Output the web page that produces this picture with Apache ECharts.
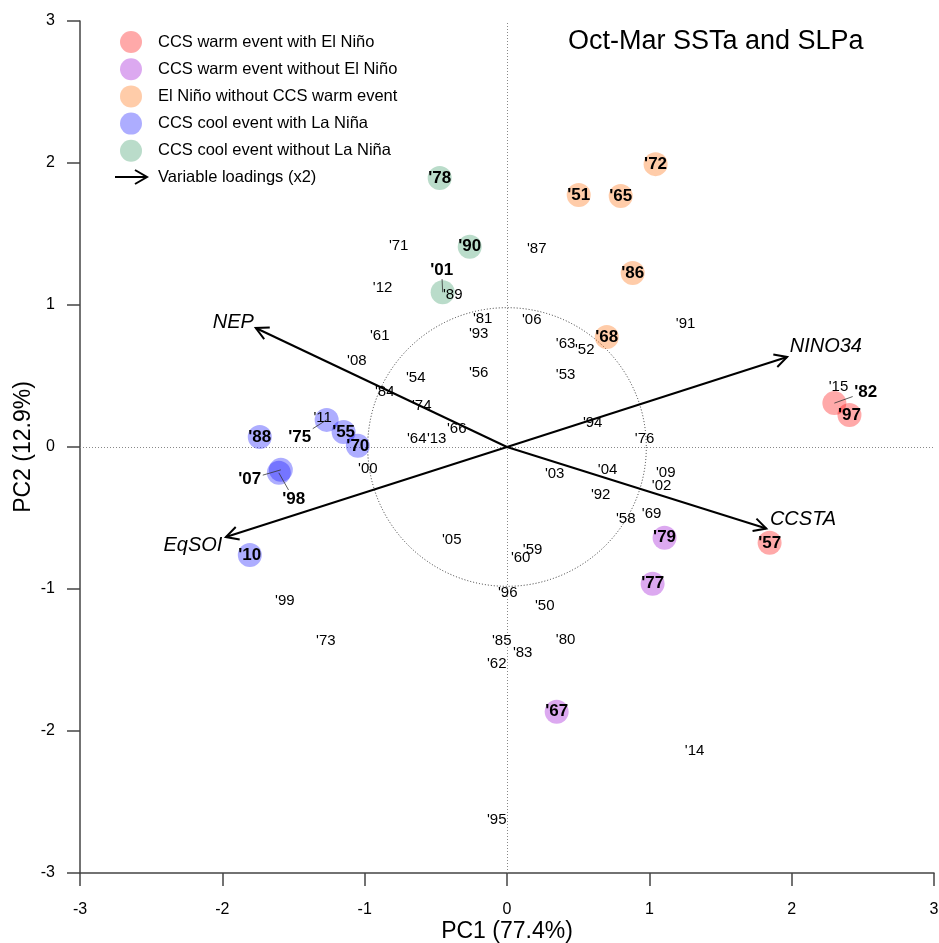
<!DOCTYPE html>
<html><head><meta charset="utf-8">
<script src="https://cdn.jsdelivr.net/npm/echarts@6/dist/echarts.min.js"></script>
<style>html,body{margin:0;padding:0;background:#fff}#c{width:939px;height:943px}</style>
</head><body><div id="c"></div>
<script>
// ---- data (PC1, PC2) ----
const warmWithElNino    = [["'57",1.845,-0.675],["'82",2.300,0.309],["'97",2.406,0.225]];
const warmWithoutElNino = [["'79",1.107,-0.639],["'77",1.023,-0.963],["'67",0.349,-1.864]];
const elNinoWithoutWarm = [["'72",1.044,1.992],["'51",0.504,1.774],["'65",0.799,1.767],["'86",0.883,1.225],["'68",0.701,0.775]];
const coolWithLaNina    = [["'88",-1.737,0.071],["'75",-1.267,0.191],["'55",-1.148,0.106],["'70",-1.048,0.008],["'07",-1.589,-0.161],["'98",-1.603,-0.182],["'10",-1.807,-0.760]];
const coolWithoutLaNina = [["'78",-0.473,1.894],["'90",-0.262,1.410],["'01",-0.452,1.090]];
// labels of event years drawn away from their point (label PC1, PC2)
const displacedLabels = [["'82",2.520,0.388],["'75",-1.456,0.071],["'07",-1.807,-0.225],["'98",-1.499,-0.366],["'01",-0.459,1.246]];
// ordinary years
const otherYears = [
 ["'71",-0.761,1.415],["'87",0.209,1.394],["'12",-0.874,1.119],["'89",-0.381,1.070],["'81",-0.171,0.901],
 ["'93",-0.199,0.796],["'06",0.174,0.894],["'61",-0.894,0.782],["'91",1.255,0.866],["'63",0.412,0.726],
 ["'52",0.546,0.683],["'08",-1.055,0.606],["'56",-0.199,0.521],["'53",0.412,0.507],["'54",-0.641,0.486],
 ["'84",-0.859,0.388],["'74",-0.599,0.289],["'94",0.602,0.169],["'66",-0.353,0.127],["'64",-0.634,0.057],
 ["'13",-0.494,0.057],["'76",0.967,0.057],["'00",-0.978,-0.154],["'03",0.335,-0.189],["'04",0.707,-0.161],
 ["'09",1.115,-0.182],["'02",1.086,-0.274],["'92",0.658,-0.338],["'69",1.016,-0.471],["'58",0.834,-0.507],
 ["'05",-0.388,-0.654],["'59",0.180,-0.724],["'60",0.096,-0.780],["'96",0.005,-1.027],["'50",0.265,-1.118],
 ["'99",-1.561,-1.083],["'73",-1.273,-1.365],["'85",-0.037,-1.365],["'80",0.412,-1.358],["'83",0.110,-1.449],
 ["'62",-0.072,-1.526],["'14",1.318,-2.139],["'95",-0.072,-2.624],["'15",2.329,0.423],["'11",-1.295,0.205]
];
// variable loadings (x2): name, tip PC1, tip PC2, label PC1, label PC2
const loadings = [["NEP",-1.765,0.838,-1.923,0.880],["NINO34",1.968,0.634,2.240,0.711],["CCSTA",1.822,-0.574,2.080,-0.511],["EqSOI",-1.975,-0.634,-2.207,-0.696]];
const circleRadius = 0.98;
const axisTicks = [-3,-2,-1,0,1,2,3];

const groups = [
 {name:'CCS warm event with El Niño', data:warmWithElNino, color:'rgba(255,0,0,0.42)'},
 {name:'CCS warm event without El Niño', data:warmWithoutElNino, color:'rgba(150,0,211,0.42)'},
 {name:'El Niño without CCS warm event', data:elNinoWithoutWarm, color:'rgba(255,105,0,0.42)'},
 {name:'CCS cool event with La Niña', data:coolWithLaNina, color:'rgba(0,0,255,0.40)'},
 {name:'CCS cool event without La Niña', data:coolWithoutLaNina, color:'rgba(40,145,90,0.40)'}
];
const displacedSet = new Set(displacedLabels.map(d=>d[0]));
const FONT = "'Liberation Sans', Arial, Helvetica, sans-serif";
const boldLabel = {show:true, position:'inside', formatter:p=>p.name, color:'#000', opacity:1, textBorderWidth:0, textBorderColor:'transparent', fontSize:17, fontWeight:'bold', fontFamily:FONT};
const plainLabel = {show:true, position:'inside', formatter:p=>p.name, color:'#000', opacity:1, textBorderWidth:0, textBorderColor:'transparent', fontSize:15, fontFamily:FONT};

const chart = echarts.init(document.getElementById('c'), null, {renderer:'canvas'});
const series = [];
// dotted circle
series.push({type:'custom', silent:true, z:1, data:[[0,0,circleRadius]],
 renderItem(params, api){
   const c = api.coord([api.value(0), api.value(1)]);
   const s = api.size([api.value(2), api.value(2)]);
   return {type:'circle', shape:{cx:c[0], cy:c[1], r:(s[0]+s[1])/2},
     style:{stroke:'#333', lineWidth:1, lineDash:[1,2], fill:null}};
 }});
groups.forEach(g=>{
 series.push({type:'scatter', name:g.name, symbol:'circle', symbolSize:24, z:2,
   itemStyle:{color:g.color},
   label:boldLabel,
   emphasis:{disabled:true},
   data:g.data.map(d=>({name:d[0], value:[d[1],d[2]], label:{show:!displacedSet.has(d[0])}}))
 });
});
// leader lines for displaced labels
const allEvents = [].concat(...groups.map(g=>g.data));
const leaderData = displacedLabels.map(d=>{const e = allEvents.find(a=>a[0]===d[0]); return [e[1],e[2],d[1],d[2]];});
series.push({type:'custom', silent:true, z:3, data:leaderData,
 renderItem(params, api){
   const c = api.coord([api.value(0), api.value(1)]);
   const l = api.coord([api.value(2), api.value(3)]);
   const dx = c[0]-l[0], dy = c[1]-l[1];
   const t = Math.min(dx!==0?13/Math.abs(dx):1e9, dy!==0?9/Math.abs(dy):1e9);
   const s = [l[0]+t*dx, l[1]+t*dy];
   return {type:'line', shape:{x1:s[0],y1:s[1],x2:c[0],y2:c[1]}, style:{stroke:'#333', lineWidth:0.8}};
 }});
series.push({type:'scatter', symbolSize:1, z:4, silent:true, itemStyle:{color:'transparent'},
 label:boldLabel, emphasis:{disabled:true},
 data:displacedLabels.map(d=>({name:d[0], value:[d[1],d[2]]}))});
// ordinary year labels + zero lines
series.push({type:'scatter', symbolSize:1, z:4, silent:true, itemStyle:{color:'transparent'},
 label:plainLabel, emphasis:{disabled:true},
 data:otherYears.map(d=>({name:d[0], value:[d[1],d[2]]})),
 markLine:{silent:true, symbol:'none', label:{show:false}, z:1,
   lineStyle:{color:'#888', width:1, type:[1,2]},
   data:[{xAxis:0},{yAxis:0}]}
});
// loadings arrows
series.push({type:'custom', silent:true, z:5, data:loadings.map(d=>({name:d[0], value:[d[1],d[2],d[3],d[4]]})),
 renderItem(params, api){
   const o = api.coord([0,0]);
   const t = api.coord([api.value(0), api.value(1)]);
   const l = api.coord([api.value(2), api.value(3)]);
   const ang = Math.atan2(t[1]-o[1], t[0]-o[0]);
   const h = 14, a = Math.PI/6.5;
   const p1 = [t[0]-h*Math.cos(ang-a), t[1]-h*Math.sin(ang-a)];
   const p2 = [t[0]-h*Math.cos(ang+a), t[1]-h*Math.sin(ang+a)];
   return {type:'group', children:[
     {type:'line', shape:{x1:o[0],y1:o[1],x2:t[0],y2:t[1]}, style:{stroke:'#000', lineWidth:2}},
     {type:'polyline', shape:{points:[p1,t,p2]}, style:{stroke:'#000', lineWidth:2, fill:null}},
     {type:'text', x:l[0], y:l[1], style:{text:loadings[params.dataIndex][0], fontSize:20, fontStyle:'italic', fontFamily:FONT, fill:'#000', align:'center', verticalAlign:'middle'}}
   ]};
 }});

const axisCommon = {type:'value', min:-3, max:3, interval:1,
 axisLine:{show:true, onZero:false, lineStyle:{color:'#444', width:1.5}},
 axisTick:{show:true, length:13, lineStyle:{color:'#444', width:1.5}},
 axisLabel:{fontSize:16, color:'#000', fontFamily:FONT, formatter:v=>axisTicks.includes(v)?String(v):''},
 splitLine:{show:false},
 nameMoveOverlap:false,
 nameLocation:'middle', nameTextStyle:{fontSize:23, color:'#000', fontFamily:FONT}};

chart.setOption({
 animation:false,
 backgroundColor:'#fff',
 textStyle:{fontFamily:FONT},
 grid:{left:80, right:5, top:21, bottom:70, containLabel:false, outerBoundsMode:'none'},
 title:{text:'Oct-Mar SSTa and SLPa', left:568, top:28, padding:0, textStyle:{fontSize:27, fontWeight:'normal', color:'#000', fontFamily:FONT, lineHeight:28}},
 legend:{orient:'vertical', left:120, top:31, padding:0, itemWidth:22, itemHeight:22, itemGap:5.2,
   selectedMode:false, icon:'circle',
   textStyle:{fontSize:16.5, color:'#000', fontFamily:FONT, padding:[0,0,0,11]},
   data:groups.map(g=>g.name)},
 xAxis:Object.assign({}, axisCommon, {name:'PC1 (77.4%)', nameGap:47, axisLabel:Object.assign({}, axisCommon.axisLabel, {margin:29})}),
 yAxis:Object.assign({}, axisCommon, {name:'PC2 (12.9%)', nameGap:45, axisLabel:Object.assign({}, axisCommon.axisLabel, {margin:25})}),
 graphic:[
   {type:'line', shape:{x1:115,y1:177,x2:147,y2:177}, style:{stroke:'#000', lineWidth:2}},
   {type:'polyline', shape:{points:[[135,170],[147,177],[135,184]]}, style:{stroke:'#000', lineWidth:2, fill:null}},
   {type:'text', x:158, y:177, style:{text:'Variable loadings (x2)', fontSize:16.5, fill:'#000', fontFamily:FONT, verticalAlign:'middle'}}
 ],
 series
});
</script></body></html>
